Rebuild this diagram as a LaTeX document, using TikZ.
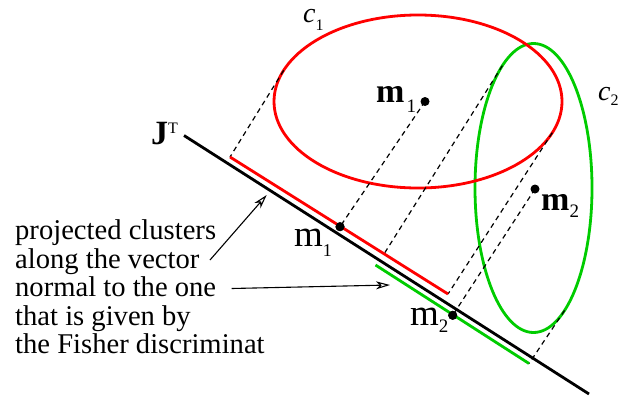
\documentclass[tikz,border=0pt]{standalone}
\usepackage{fontspec}
\setmainfont{Liberation Serif}
\usetikzlibrary{arrows.meta,calc}
\definecolor{cred}{RGB}{255,0,0}
\definecolor{cgreen}{RGB}{0,204,0}
\newcommand{\lowsub}[3]{\raisebox{-#1pt}{\fontsize{#2}{#2}\selectfont #3}}
\begin{document}
\begin{tikzpicture}[x=1pt,y=-1pt,
  thick line/.style={line width=2.8pt},
  projline/.style={line width=1.2pt,dash pattern=on 5pt off 4pt},
  arr/.style={line width=1.1pt,-{Stealth[open,length=14pt,width=8pt,inset=4pt]}},
  txt/.style={anchor=base west,inner sep=0pt,font=\fontsize{28.6}{28}\selectfont},
  lbl/.style={anchor=base west,inner sep=0pt},
  dot/.style={circle,fill=black,inner sep=0pt,minimum size=9pt}]
\useasboundingbox (0,0) rectangle (620,399);
% cluster centres and tangent points
\coordinate (C1) at (418,101.5);
\coordinate (C2) at (533.5,188);
\coordinate (RT1) at (283.7,70.3);
\coordinate (RT2) at (552.3,132.7);
\coordinate (GT1) at (502.4,65.6);
\coordinate (GT2) at (564.6,310.4);
% projection line and projected segments
\coordinate (J1) at (184,135.5);
\coordinate (J2) at (589,394);
\coordinate (R1) at (230,157);
\coordinate (R2) at (448,294);
\coordinate (G1) at (375.5,265);
\coordinate (G2) at (529,363.5);
% ellipses
\draw[cgreen,thick line] (C2) ellipse [x radius=58.5,y radius=144.5];
\draw[cred,thick line] (C1) ellipse [x radius=144,y radius=86.5];
% means
\node[dot] (M1) at (425,101.5) {};
\node[dot] (M2) at (535,189) {};
\node[dot] (P1) at (340,226.7) {};
\node[dot] (P2) at (452.7,315.3) {};
% dashed projection lines
\draw[projline] (RT1) -- (R1);
\draw[projline] (M1.center) -- (P1.center);
\draw[projline] (GT1) -- ($(R1)!(GT1)!(R2)$);
\draw[projline] (RT2) -- (R2);
\draw[projline] (M2.center) -- (P2.center);
\draw[projline] (GT2) -- (G2);
% axis and projected clusters
\draw[black,thick line] (J1) -- (J2);
\draw[cred,thick line] (R1) -- (R2);
\draw[cgreen,thick line] (G1) -- (G2);
\node[dot] at (P1) {};
\node[dot] at (P2) {};
% labels
\node[lbl] (c1) at (303,22.7) {\fontsize{28}{28}\selectfont\itshape c\lowsub{8}{16}{\upshape 1}};
\node[lbl] (c2) at (598,100) {\fontsize{28}{28}\selectfont\itshape c\lowsub{5}{16}{\upshape 2}};
\node[lbl] (m1b) at (376,102) {\fontsize{34}{34}\selectfont\bfseries m\hspace{2pt}\lowsub{10}{19}{\mdseries 1}};
\node[lbl] (m2b) at (541,210) {\fontsize{34}{34}\selectfont\bfseries m\lowsub{7}{19}{\mdseries 2}};
\node[lbl] (m1r) at (294,246.7) {\fontsize{37}{37}\selectfont m\lowsub{10}{18}{1}};
\node[lbl] (m2r) at (410,325) {\fontsize{37}{37}\selectfont m\lowsub{7.5}{19}{2}};
\node[lbl] (JT) at (151,144) {\fontsize{34}{34}\selectfont\bfseries J\raisebox{10.5pt}{\fontsize{16}{16}\selectfont\mdseries T}};
% explanation text
\node[txt] (l1) at (15,239.3) {projected clusters};
\node[txt] (l2) at (15,268.3) {along the vector};
\node[txt] (l3) at (15,296.7) {normal to the one};
\node[txt] (l4) at (15,325) {that is given by};
\node[txt] (l5) at (15,353.3) {the Fisher discriminat};
\coordinate (t1) at (210,260);
\coordinate (h1) at (266.7,195);
\coordinate (t2) at (231.7,288.5);
\coordinate (h2) at (390,285);
\draw[arr] (t1) -- (h1);
\draw[arr] (t2) -- (h2);
\end{tikzpicture}
\end{document}
